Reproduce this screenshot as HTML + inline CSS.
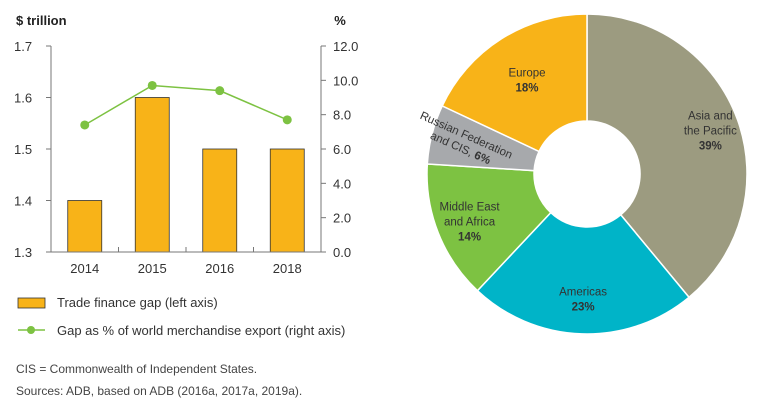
<!DOCTYPE html>
<html><head><meta charset="utf-8"><style>
body{margin:0;background:#fff;width:759px;height:413px;overflow:hidden}
svg{font-family:"Liberation Sans",sans-serif}
</style></head><body>
<svg id="c" width="759" height="413" viewBox="0 0 759 413">
<g id="left"></g>
<g id="pie"></g>
<g>
<rect x="18" y="298" width="27" height="10" fill="#f8b318" stroke="#333" stroke-width="0.8"/>
<text x="57" y="307" font-size="13" fill="#333">Trade finance gap (left axis)</text>
<line x1="18" y1="330" x2="45" y2="330" stroke="#7dc242" stroke-width="1.5"/>
<circle cx="31" cy="330" r="4" fill="#7dc242"/>
<text x="57" y="335" font-size="13" fill="#333">Gap as % of world merchandise export (right axis)</text>
</g>
<text x="16" y="373" font-size="12" fill="#444">CIS = Commonwealth of Independent States.</text>
<text x="16" y="395" font-size="12" fill="#444">Sources: ADB, based on ADB (2016a, 2017a, 2019a).</text>
</svg>
<script>
const categories=["2014","2015","2016","2018"];
const gapValues=[1.4,1.6,1.5,1.5];
const pctValues=[7.4,9.7,9.4,7.7];
const leftTicks=[1.3,1.4,1.5,1.6,1.7];
const rightTicks=[0,2,4,6,8,10,12];
const pieLabels=[["Asia and","the Pacific"],["Americas"],["Middle East","and Africa"],["Russian Federation","and CIS,"],["Europe"]];
const pieValues=[39,23,14,6,18];
const pieColors=["#9c9b80","#00b4c8","#7dc242","#a7a9ac","#f8b318"];

const NS="http://www.w3.org/2000/svg";
function mk(p,t,a,txt){const e=document.createElementNS(NS,t);for(const k in a)e.setAttribute(k,a[k]);if(txt!=null)e.textContent=txt;p.appendChild(e);return e;}
const L=document.getElementById('left');
const x0=51,x1=321,yT=46,yB=252;
const yl=v=>yB-(v-1.3)/0.4*(yB-yT);
const yr=v=>yB-v/12*(yB-yT);
const band=(x1-x0)/categories.length;
const xc=i=>x0+band*(i+0.5);
let e;
e=mk(L,'text',{x:16,y:25,'font-size':13,'font-weight':'bold',fill:'#222'},'$ trillion');

e=mk(L,'text',{x:340,y:25,'font-size':13,'font-weight':'bold',fill:'#222','text-anchor':'middle'},'%');

gapValues.forEach((v,i)=>{
 const b=mk(L,'rect',{x:xc(i)-17,y:yl(v),width:34,height:yB-yl(v),fill:'#f8b318',stroke:'#333','stroke-width':0.8});
 
 
 const t=mk(L,'text',{x:xc(i),y:yB+21,'font-size':13,fill:'#333','text-anchor':'middle'},categories[i]);
 
 
});
e=mk(L,'line',{x1:x0,y1:yT,x2:x0,y2:yB,stroke:'#777'});
e=mk(L,'line',{x1:x1,y1:yT,x2:x1,y2:yB,stroke:'#777'});
e=mk(L,'line',{x1:x0-5,y1:yB,x2:x1+5,y2:yB,stroke:'#777'});
for(let i=1;i<categories.length;i++){mk(L,'line',{x1:x0+band*i,y1:yB,x2:x0+band*i,y2:yB-5,stroke:'#777'});}
leftTicks.forEach(v=>{
 mk(L,'line',{x1:x0-5,y1:yl(v),x2:x0,y2:yl(v),stroke:'#777'});
 const t=mk(L,'text',{x:14,y:yl(v)+5,'font-size':13,fill:'#333'},v.toFixed(1));
 
 
});
rightTicks.forEach(v=>{
 mk(L,'line',{x1:x1,y1:yr(v),x2:x1+5,y2:yr(v),stroke:'#777'});
 const t=mk(L,'text',{x:333,y:yr(v)+5,'font-size':13,fill:'#333'},v.toFixed(1));
 
 
});
e=mk(L,'polyline',{points:pctValues.map((v,i)=>xc(i)+','+yr(v)).join(' '),fill:'none',stroke:'#7dc242','stroke-width':1.5});

pctValues.forEach((v,i)=>{
 const c=mk(L,'circle',{cx:xc(i),cy:yr(v),r:4.5,fill:'#7dc242'});
 
 
});

const P=document.getElementById('pie');
const cx=587,cy=174,R=160,r=53;
const tot=pieValues.reduce((a,b)=>a+b,0);
const pt=(a,rad)=>[cx+rad*Math.sin(a),cy-rad*Math.cos(a)];
let acc=0;
const labelPos=[0.72,0.68,0.69,0.70,0.60];
pieValues.forEach((v,i)=>{
 const a0=acc/tot*2*Math.PI;acc+=v;const a1=acc/tot*2*Math.PI;
 const lg=(a1-a0)>Math.PI?1:0;
 const [ax,ay]=pt(a0,R),[bx,by]=pt(a1,R),[cx2,cy2]=pt(a1,r),[dx,dy]=pt(a0,r);
 const s=mk(P,'path',{d:`M${ax},${ay}A${R},${R} 0 ${lg} 1 ${bx},${by}L${cx2},${cy2}A${r},${r} 0 ${lg} 0 ${dx},${dy}Z`,fill:pieColors[i],stroke:'#fff','stroke-width':1.5});
 
 
 const am=(a0+a1)/2;const [lx,ly]=pt(am,R*labelPos[i]+r*0.3);
 const g=mk(P,'text',{x:lx,y:ly,'font-size':11.5,fill:'#333','text-anchor':'middle'});
 
 
 if(i===3){
  g.setAttribute('transform',`rotate(24 ${lx} ${ly})`);
  mk(g,'tspan',{x:lx,dy:-4},pieLabels[i][0]);
  mk(g,'tspan',{x:lx,dy:14},pieLabels[i][1]+' ');
  mk(g,'tspan',{'font-weight':'bold'},v+'%');
 } else {
  const n=pieLabels[i].length+1;
  pieLabels[i].forEach((l,j)=>mk(g,'tspan',{x:lx,dy:j===0?-(n-1)*7+4:15},l));
  mk(g,'tspan',{x:lx,dy:15,'font-weight':'bold'},v+'%');
 }
});
</script>
</body></html>
